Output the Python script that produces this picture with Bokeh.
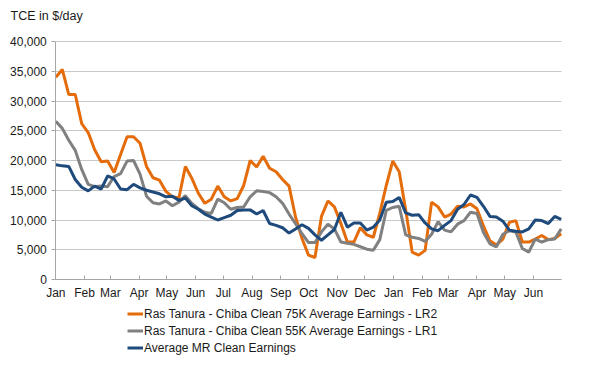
import pandas as pd
from bokeh.plotting import figure
from bokeh.models import (ColumnDataSource, Legend, LegendItem, MonthsTicker,
                          DatetimeTickFormatter, Range1d, FixedTicker,
                          NumeralTickFormatter, Label)
from bokeh.embed import file_html
from bokeh.resources import INLINE

# ---- data (weekly, Jan year 1 to end of Jun year 2) ----
start_date = "2017-01-01"
end_date = "2018-07-01"
n_weeks = 79

lr2_75k = [34000, 35300, 31100, 31100, 26200, 24700, 21800, 19800, 19900, 18000,
           21000, 24000, 24000, 22900, 19000, 17100, 16700, 14800, 13900, 13700,
           19000, 17000, 14500, 12800, 13500, 15700, 13900, 13200, 13600, 15800,
           20000, 18900, 20700, 18700, 18100, 16800, 15700, 10500, 6900, 4100,
           3700, 10600, 13200, 12200, 9400, 6300, 6300, 8700, 7500, 7100,
           11100, 15800, 19900, 18100, 11700, 4600, 4100, 4900, 13000, 12200,
           10500, 11000, 12300, 12200, 12700, 11900, 9000, 6500, 5800, 6800,
           9600, 9900, 6300, 6300, 6800, 7400, 6700, 6900, 7700]

lr1_55k = [26600, 25400, 23400, 21700, 18500, 16000, 15600, 15700, 15600, 17300,
           17800, 19900, 20000, 17700, 14000, 12900, 12700, 13200, 12400, 13000,
           14100, 12800, 11900, 11300, 11100, 13500, 12900, 11800, 12100, 12200,
           13900, 14900, 14800, 14600, 13900, 12800, 11000, 9400, 7700, 6200,
           6200, 8000, 9300, 8500, 6300, 6100, 5900, 5500, 5100, 4900,
           6700, 11600, 12100, 12300, 7500, 7100, 6900, 6400, 7600, 9700,
           8300, 8000, 9300, 9900, 11300, 11100, 7900, 6000, 5500, 7600,
           8200, 8000, 5200, 4600, 6800, 6300, 6700, 6800, 8500]

mr_avg = [19300, 19100, 19000, 16800, 15500, 14900, 15700, 15200, 17400, 16900,
          15200, 15100, 16000, 15400, 15000, 14700, 14400, 13900, 14000, 13300,
          13700, 12400, 11800, 11000, 10500, 10000, 10400, 10800, 11600, 11700,
          11700, 11000, 11600, 9400, 9100, 8700, 7800, 8500, 9200, 8600,
          7500, 6600, 7500, 8400, 11300, 8800, 9500, 9500, 8300, 8800,
          10000, 13000, 13100, 13800, 11200, 10800, 10900, 9500, 8500, 8200,
          9100, 9900, 11800, 12600, 14200, 13800, 12300, 10600, 10500, 9800,
          8300, 8100, 8000, 8500, 10000, 9900, 9400, 10600, 10100]

y_ticks = [0, 5000, 10000, 15000, 20000, 25000, 30000, 35000, 40000]
y_min, y_max = 0, 40000

series_names = ["Ras Tanura - Chiba Clean 75K Average Earnings - LR2",
                "Ras Tanura - Chiba Clean 55K Average Earnings - LR1",
                "Average MR Clean Earnings"]
series_colors = ["#E46C0A", "#808080", "#1F4A7C"]

dates = pd.date_range(start_date, periods=n_weeks, freq="7D")
src = ColumnDataSource(dict(date=dates, lr2=lr2_75k, lr1=lr1_55k, mr=mr_avg))

FONT = "Liberation Sans"
TXT = "#1a1a1a"

# ---- layout (pixels): the frame covers the whole canvas; the plot area
# (Jan..Jun, 0..40000) sits inside it, axes are pinned with fixed_location ----
W, H = 581, 362
area_left, area_right = 55.3, 560.7
area_top, area_bottom = 41.0, 279.0

t0 = pd.Timestamp(start_date)
t1 = pd.Timestamp(end_date)
days_per_px = (t1 - t0) / (area_right - area_left)
val_per_px = (y_max - y_min) / (area_bottom - area_top)
x_lo = t0 - days_per_px * area_left
x_hi = t1 + days_per_px * (W - area_right)
y_lo = y_min - val_per_px * (H - area_bottom)
y_hi = y_max + val_per_px * area_top

ms = lambda t: t.value / 1e6

p = figure(x_axis_type="datetime", frame_width=W, frame_height=H,
           min_border_left=0, min_border_right=0, min_border_top=0,
           min_border_bottom=0,
           output_backend="svg", toolbar_location=None,
           x_range=Range1d(x_lo, x_hi), y_range=Range1d(y_lo, y_hi))

renderers = []
for key, col in zip(["lr2", "lr1", "mr"], series_colors):
    r = p.line("date", key, source=src, line_color=col, line_width=3)
    renderers.append(r)

# axes
p.xaxis.ticker = MonthsTicker(months=list(range(12)))
p.xaxis.formatter = DatetimeTickFormatter(months="%b", days="%b")
p.xaxis.fixed_location = y_min
p.xaxis.bounds = (ms(t0), ms(t1) - 3.6e6)
p.yaxis.ticker = FixedTicker(ticks=y_ticks)
p.yaxis.formatter = NumeralTickFormatter(format="0,0")
p.yaxis.bounds = (y_min, y_max)
p.yaxis.fixed_location = ms(t0)

for ax in (p.xaxis, p.yaxis):
    ax.axis_line_color = "#a6a6a6"
    ax.major_tick_line_color = "#a6a6a6"
    ax.minor_tick_line_color = None
    ax.major_label_text_font = FONT
    ax.major_label_text_font_size = "12px"
    ax.major_label_text_color = TXT

p.xaxis.major_tick_in = 4
p.xaxis.major_tick_out = 0
p.xaxis.major_label_standoff = 6
p.yaxis.major_tick_in = 0
p.yaxis.major_tick_out = 4
p.yaxis.major_label_standoff = 5

p.xgrid.grid_line_color = None
p.ygrid.grid_line_color = "#c8c8c8"
try:
    p.ygrid.cross_bounds = (ms(t0), ms(t1))
except Exception:
    p.ygrid.grid_line_color = None
    p.segment(x0=[t0] * len(y_ticks), x1=[t1] * len(y_ticks), y0=y_ticks, y1=y_ticks,
              line_color="#c8c8c8", line_width=1, level="underlay")
p.outline_line_color = None

# title text at top-left
p.add_layout(Label(x=10, y=H - 15, x_units="screen", y_units="screen",
                   text="TCE in $/day", text_font=FONT, text_font_size="12.5px",
                   text_color=TXT, text_baseline="middle", text_align="left"))

legend = Legend(items=[LegendItem(label=n, renderers=[r]) for n, r in zip(series_names, renderers)],
                location=(127, 6), orientation="vertical")
legend.label_text_font = FONT
legend.label_text_font_size = "12px"
legend.label_text_color = TXT
legend.glyph_width = 16
legend.glyph_height = 17
legend.label_height = 17
legend.label_standoff = 1
legend.spacing = 0
legend.padding = 0
legend.margin = 0
legend.border_line_color = None
legend.background_fill_alpha = 0
p.add_layout(legend, "center")

open("out.html", "w").write(file_html(p, INLINE))
